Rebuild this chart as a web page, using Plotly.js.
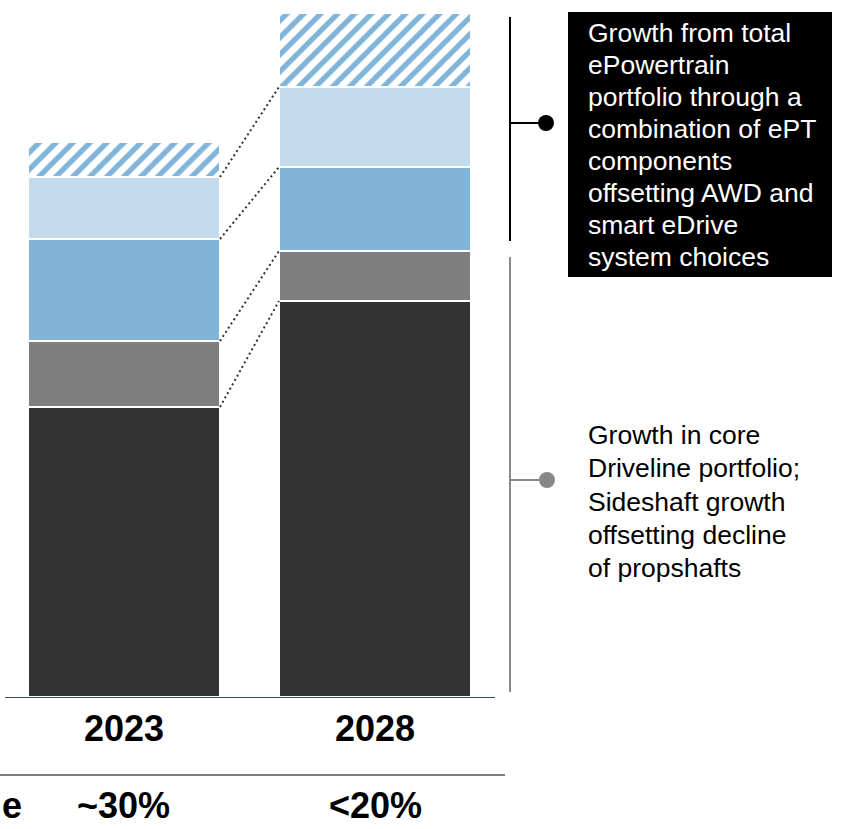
<!DOCTYPE html>
<html>
<head>
<meta charset="utf-8">
<script src="https://cdn.plot.ly/plotly-3.0.1.min.js"></script>
<style>html,body{margin:0;padding:0;background:#fff;}#chart{width:846px;height:829px;}</style>
</head>
<body>
<div id="chart"></div>
<script>
// ---- data ----
const years = ['2023', '2028'];
const coreDark = [290, 396];
const coreGrey = [66, 50];
const eptBlue = [102, 84];
const eptLight = [62, 80];
const eptHatch = [35, 74];
const shareLabels = ['~30%', '<20%'];
const rowLabel = 'e';
const noteEpt = ['Growth from total', 'ePowertrain', 'portfolio through a', 'combination of ePT',
  'components', 'offsetting AWD and', 'smart eDrive', 'system choices'];
const noteCore = ['Growth in core', 'Driveline portfolio;', 'Sideshaft growth', 'offsetting decline', 'of propshafts'];

// ---- layout helpers ----
const W = 846, H = 829;
const M = {l: 5, r: 351, t: 7, b: 132};
const pw = W - M.l - M.r, ph = H - M.t - M.b;
const px = v => (v - M.l) / pw;          // pixel x -> paper
const py = v => (H - M.b - v) / ph;      // pixel y -> paper
const xs = years.map((_, i) => i);
const barW = 0.765;
const FONT = 'Liberation Sans, Arial, sans-serif';

const layers = [
  {name: 'Core Driveline', y: coreDark, color: '#333333'},
  {name: 'Core other', y: coreGrey, color: '#7f7f7f'},
  {name: 'ePT', y: eptBlue, color: '#80b4d9'},
  {name: 'ePT light', y: eptLight, color: '#c2daec'},
  {name: 'ePT upside', y: eptHatch, color: '#ffffff', hatch: true}
];

const traces = layers.map(L => ({
  type: 'bar', x: xs, y: L.y, name: L.name, width: barW,
  marker: Object.assign({color: L.color, line: {color: '#ffffff', width: 2}},
    L.hatch ? {pattern: {shape: '/', fgcolor: '#80b4d9', bgcolor: '#ffffff', fgopacity: 1,
      size: 12, solidity: 0.45, fillmode: 'replace'}} : {}),
  hoverinfo: 'skip', showlegend: false
}));

// cumulative tops for connector lines
const cum = [[], []];
for (let i = 0; i < 2; i++) {
  let s = 0;
  layers.forEach(L => { s += L.y[i]; cum[i].push(s); });
}
const shapes = [];
for (let k = 0; k < 4; k++) {
  shapes.push({type: 'line', xref: 'x', yref: 'y',
    x0: xs[0] + barW / 2, y0: cum[0][k], x1: xs[1] - barW / 2, y1: cum[1][k],
    line: {color: '#333333', width: 2, dash: '2px,3px'}});
}
// separator line under year labels
shapes.push({type: 'line', xref: 'paper', yref: 'paper', x0: px(0), x1: px(505), y0: py(775), y1: py(775),
  line: {color: '#555555', width: 1.5}});
// right brackets
shapes.push({type: 'line', xref: 'paper', yref: 'paper', x0: px(510), x1: px(510), y0: py(17), y1: py(241),
  line: {color: '#000000', width: 2}});
shapes.push({type: 'line', xref: 'paper', yref: 'paper', x0: px(510), x1: px(546), y0: py(123), y1: py(123),
  line: {color: '#000000', width: 2}});
shapes.push({type: 'circle', xref: 'paper', yref: 'paper', x0: px(538), x1: px(554), y0: py(115), y1: py(131),
  fillcolor: '#000000', line: {width: 0}});
shapes.push({type: 'line', xref: 'paper', yref: 'paper', x0: px(510), x1: px(510), y0: py(257), y1: py(692),
  line: {color: '#888888', width: 2}});
shapes.push({type: 'line', xref: 'paper', yref: 'paper', x0: px(510), x1: px(546), y0: py(480), y1: py(480),
  line: {color: '#888888', width: 2}});
shapes.push({type: 'circle', xref: 'paper', yref: 'paper', x0: px(539), x1: px(555), y0: py(472), y1: py(488),
  fillcolor: '#888888', line: {width: 0}});
// black box
shapes.push({type: 'rect', xref: 'paper', yref: 'paper', x0: px(568), x1: px(832), y0: py(12), y1: py(277),
  fillcolor: '#000000', line: {width: 0}, layer: 'below'});

const annotations = [];
shareLabels.forEach((t, i) => annotations.push({
  xref: 'x', yref: 'paper', x: xs[i], y: py(805), text: '<b>' + t + '</b>', showarrow: false,
  font: {family: FONT, size: 36, color: '#000000'}, xanchor: 'center', yanchor: 'middle'}));
annotations.push({xref: 'paper', yref: 'paper', x: px(0), y: py(805), text: '<b>' + rowLabel + '</b>', showarrow: false,
  font: {family: FONT, size: 36, color: '#000000'}, xanchor: 'left', yanchor: 'middle'});
noteEpt.forEach((t, i) => annotations.push({xref: 'paper', yref: 'paper', x: px(586), y: py(33 + 32 * i), text: t,
  showarrow: false, font: {family: FONT, size: 26.5, color: '#ffffff'}, xanchor: 'left', yanchor: 'middle'}));
noteCore.forEach((t, i) => annotations.push({xref: 'paper', yref: 'paper', x: px(586), y: py(435 + 33.3 * i), text: t,
  showarrow: false, font: {family: FONT, size: 26.5, color: '#000000'}, xanchor: 'left', yanchor: 'middle'}));

const layout = {
  width: W, height: H, margin: M, barmode: 'stack', bargap: 0,
  paper_bgcolor: '#ffffff', plot_bgcolor: 'rgba(0,0,0,0)',
  xaxis: {range: [-0.474, 1.478], tickvals: xs, ticktext: years.map(y => '<b>' + y + '</b>'),
    tickfont: {family: FONT, size: 36, color: '#000000'}, showline: true, linecolor: '#3c4b5c', linewidth: 1,
    showgrid: false, zeroline: false, ticks: '', fixedrange: true},
  yaxis: {range: [0, ph], visible: false, showgrid: false, zeroline: false, fixedrange: true},
  shapes: shapes, annotations: annotations, showlegend: false
};

Plotly.newPlot('chart', traces, layout, {displayModeBar: false, staticPlot: true});
</script>
</body>
</html>
